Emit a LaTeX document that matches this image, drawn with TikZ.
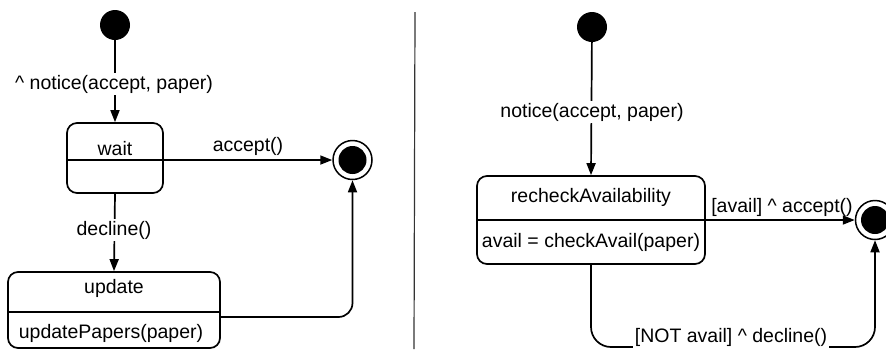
\documentclass[tikz,border=0pt]{standalone}
\usepackage{fontspec}
\setmainfont{Liberation Sans}
\usetikzlibrary{arrows.meta,calc}
\begin{document}
\begin{tikzpicture}[x=1pt,y=-1pt,
  every node/.style={font=\fontsize{19.5}{22}\selectfont},
  ln/.style={line width=1.7pt},
  arr/.style={ln,-{Triangle[length=12pt,width=9pt]}},
  initst/.style={circle,fill=black,minimum size=30pt,inner sep=0pt},
  finst/.style={circle,draw=black,line width=1.5pt,minimum size=39pt,inner sep=0pt,
    path picture={\fill[black] (path picture bounding box.center) circle (14pt);}},
  statebox/.style={draw=black,line width=1.7pt,rounded corners=10pt,inner sep=0pt},
  lbl/.style={fill=white,inner sep=2pt,anchor=base},
  txt/.style={inner sep=0pt,anchor=base}]
\useasboundingbox (0,0) rectangle (886,349);
% separator
\draw[line width=1.2pt,black!80] (415,12) coordinate (sepT) -- (414,349) coordinate (sepB);

% ---------- left diagram ----------
\node[initst] (linit) at (115,25) {};
\node[statebox,minimum width=96pt,minimum height=70pt] (wait) at (115,158) {};
\node[finst] (lfin) at (352.5,160) {};
\node[statebox,minimum width=212pt,minimum height=76pt] (update) at (114,310) {};

\draw[ln] (wait.west |- 0,160) -- (wait.east |- 0,160);
\draw[ln] (update.west |- 0,312) -- (update.east |- 0,312);

\node[txt] (waitT) at (115,155) {wait};
\node[txt] (updT) at (114,293) {update};
\node[txt] (updA) at (111,338) {updatePapers(paper)};

\draw[arr] (linit) -- (wait.north);
\node[lbl] (lnotice) at (114,89) {\textasciicircum\ notice(accept, paper)};
\draw[arr] (wait.east |- 0,160) -- (lfin.west);
\node[txt] (lacc) at (248,151) {accept()};
\draw[arr] (wait.south) -- (update.north);
\node[lbl] (ldec) at (114,235) {decline()};
\draw[arr,rounded corners=14pt] (update.east |- 0,317) -- (lfin.south |- 0,317) -- (lfin.south);

% ---------- right diagram ----------
\node[initst] (rinit) at (592,27) {};
\node[statebox,minimum width=228pt,minimum height=88pt] (rcheck) at (591,220) {};
\node[finst] (rfin) at (875,220) {};

\draw[ln] (rcheck.west) -- (rcheck.east);
\node[txt] (rcT) at (591,202) {recheckAvailability};
\node[txt] (rcA) at (591,247) {avail = checkAvail(paper)};

\draw[arr] (rinit) -- (rcheck.north);
\node[lbl] (rnotice) at (592,117) {notice(accept, paper)};
\draw[arr] (rcheck.east) -- (rfin.west);
\node[txt] (racc) at (782,212) {[avail] \textasciicircum\ accept()};
\draw[arr,rounded corners=20pt] (rcheck.south) -- (rcheck.south |- 0,347) -- (rfin.south |- 0,347) -- (rfin.south);
\node[lbl] (rdec) at (731,342) {[NOT avail] \textasciicircum\ decline()};
\end{tikzpicture}
\end{document}
